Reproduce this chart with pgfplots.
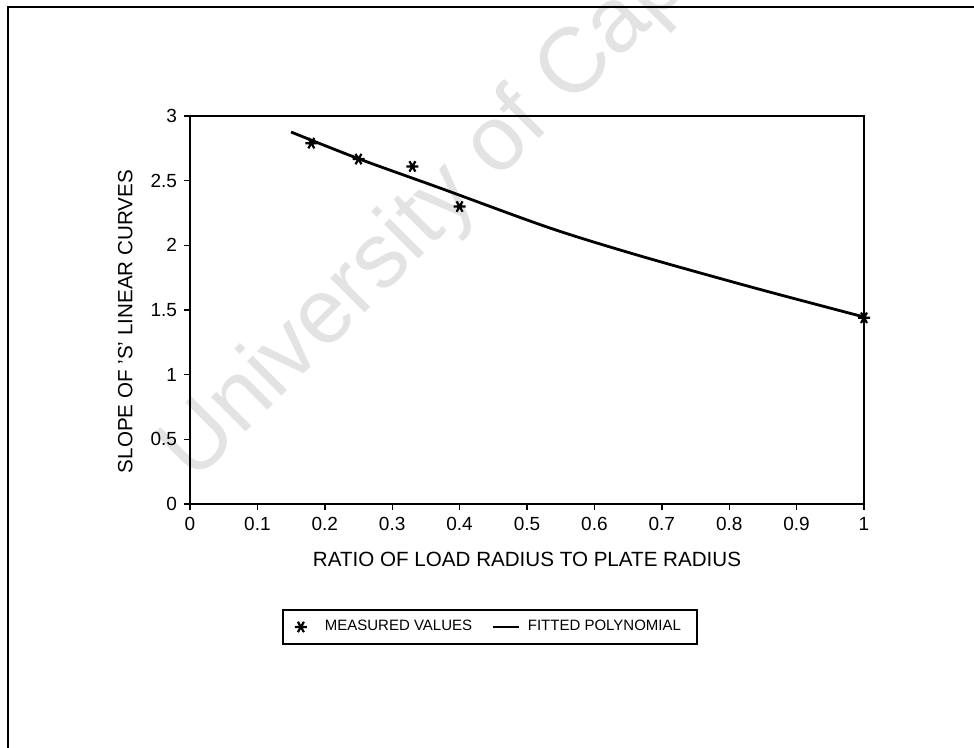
\documentclass[border=0pt]{standalone}
\usepackage{pgfplots}
\pgfplotsset{compat=1.18}
\usepackage{fontspec}
\setmainfont{Liberation Sans}

\begin{document}
\begin{tikzpicture}
% page extent
\path[use as bounding box] (0,0) rectangle (487bp,374bp);
\clip (0,0) rectangle (487bp,374bp);

% watermark
\node[anchor=base west, rotate=45, text=black!11,
      font=\fontsize{46bp}{50bp}\selectfont, inner sep=0pt]
  at (97bp,132bp) {University of Cape Town};

% page frame (open on the right and bottom)
\draw[line width=1.4bp] (4bp,0) -- (4bp,370.5bp) -- (487bp,370.5bp);

\begin{axis}[
  at={(95bp,122bp)}, anchor=south west,
  scale only axis, width=337bp, height=194bp,
  xmin=0, xmax=1, ymin=0, ymax=3,
  xtick={0,0.1,0.2,0.3,0.4,0.5,0.6,0.7,0.8,0.9,1},
  ytick={0,0.5,1,1.5,2,2.5,3},
  xtick pos=bottom, ytick pos=left,
  tick align=outside, major tick length=3bp,
  axis line style={line width=0.9bp},
  tick style={black, line width=0.7bp},
  /pgf/number format/assume math mode=true,
  ticklabel style={font=\fontsize{9.5bp}{11bp}\selectfont},
  xlabel={RATIO OF LOAD RADIUS TO PLATE RADIUS},
  ylabel={SLOPE OF 'S' LINEAR CURVES},
  label style={font=\fontsize{10.3bp}{12bp}\selectfont},
  xlabel style={at={(axis description cs:0.5,-0.144)}, anchor=center},
  ylabel style={at={(axis description cs:-0.096,0.47)}, anchor=center},
  clip=false,
  legend columns=2,
  legend style={at={(axis description cs:0.445,-0.317)}, anchor=center,
    draw=black, line width=0.8bp, inner xsep=6bp, inner ysep=3bp,
    font=\fontsize{7.5bp}{9bp}\selectfont,
    /tikz/every even column/.append style={column sep=8bp}},
]
\addplot[only marks, mark=asterisk, mark size=3bp,
         mark options={rotate=90, line width=1.1bp}]
  coordinates {(0.18,2.79) (0.25,2.667) (0.33,2.61) (0.40,2.30) (1.0,1.44)};
\addlegendentry{\hspace{7bp}MEASURED VALUES}
\addplot[black, line width=1.4bp, smooth, no marks,
         legend image code/.code={\draw[black, line width=0.9bp] (0bp,0bp) -- (13bp,0bp);}]
  coordinates {(0.15,2.876) (0.25,2.67) (0.371,2.443) (0.534,2.134)
               (0.668,1.918) (0.838,1.670) (1.0,1.446)};
\addlegendentry{\hspace{2bp}FITTED POLYNOMIAL}
\end{axis}
\end{tikzpicture}
\end{document}
